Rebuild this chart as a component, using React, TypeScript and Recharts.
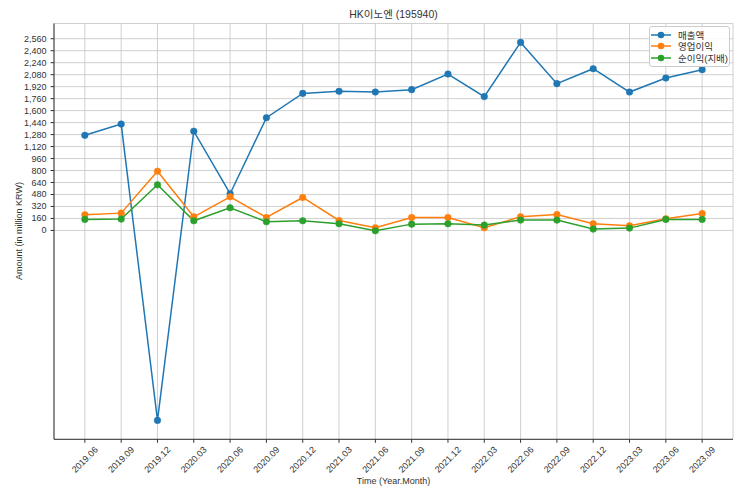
import React from "react";
import { LineChart, Line, XAxis, YAxis, CartesianGrid } from "recharts";

const periods = [
  "2019.06", "2019.09", "2019.12", "2020.03", "2020.06", "2020.09",
  "2020.12", "2021.03", "2021.06", "2021.09", "2021.12", "2022.03",
  "2022.06", "2022.09", "2022.12", "2023.03", "2023.06", "2023.09",
];
const revenue = [1270, 1420, -2537, 1325, 490, 1505, 1830, 1858, 1848, 1880, 2088, 1787, 2511, 1960, 2160, 1848, 2035, 2147];
const operatingProfit = [209, 231, 791, 182, 449, 173, 440, 133, 36, 173, 173, 36, 182, 213, 89, 62, 156, 227];
const netProfit = [147, 151, 609, 129, 302, 116, 129, 89, -5, 84, 89, 71, 138, 138, 18, 31, 147, 147];
const yTicks = [0, 160, 320, 480, 640, 800, 960, 1120, 1280, 1440, 1600, 1760, 1920, 2080, 2240, 2400, 2560];

const seriesNames = ["매출액", "영업이익", "순이익(지배)"];
const colors = ["#1f77b4", "#ff7f0e", "#2ca02c"];

const data = periods.map((p, i) => ({
  idx: i,
  label: p,
  rev: revenue[i],
  op: operatingProfit[i],
  net: netProfit[i],
}));

const allVals = [...revenue, ...operatingProfit, ...netProfit];
const vMin = Math.min(...allVals);
const vMax = Math.max(...allVals);
const vPad = (vMax - vMin) * 0.05;
const xPad = (periods.length - 1) * 0.05;

const FONT = "'Liberation Sans', 'Noto Sans CJK KR', sans-serif";
const TXT = "#333333";

const XTick = (props: any) => {
  const { x, payload } = props;
  const cy = 459.7;
  return (
    <text
      x={x}
      y={cy}
      textAnchor="middle"
      dominantBaseline="central"
      transform={`rotate(-45, ${x}, ${cy})`}
      fontSize={9}
      fontFamily={FONT}
      fill={TXT}
    >
      {periods[payload.value]}
    </text>
  );
};

const YTick = (props: any) => {
  const { x, y, payload } = props;
  return (
    <text x={x - 2} y={y} textAnchor="end" dominantBaseline="central" fontSize={9} fontFamily={FONT} fill={TXT}>
      {Number(payload.value).toLocaleString("en-US")}
    </text>
  );
};

const LegendBox = () => (
  <div
    style={{
      position: "absolute",
      left: 649,
      top: 25.5,
      width: 81,
      boxSizing: "border-box",
      border: "1px solid #cccccc",
      borderRadius: 3,
      background: "rgba(255,255,255,0.85)",
      padding: "2.5px 2px 2.5px 0px",
      fontFamily: FONT,
      fontSize: 9.5,
      color: TXT,
      whiteSpace: "nowrap",
    }}
  >
    {seriesNames.map((n, i) => (
      <div key={n} style={{ display: "flex", alignItems: "center", height: 11.5 }}>
        <svg width={21} height={10} style={{ marginRight: 7, flex: "none" }}>
          <line x1={1} y1={5} x2={21} y2={5} stroke={colors[i]} strokeWidth={1.5} />
          <circle cx={11} cy={5} r={3.3} fill={colors[i]} />
        </svg>
        <span>{n}</span>
      </div>
    ))}
  </div>
);

export default function App() {
  return (
    <div style={{ position: "absolute", left: 0, top: 0, width: 743, height: 495, background: "#fff" }}>
      <div
        style={{
          position: "absolute",
          left: 0,
          width: 787,
          top: 6,
          textAlign: "center",
          fontFamily: FONT,
          fontSize: 10.5,
          color: TXT,
        }}
      >
        HK이노엔 (195940)
      </div>
      <div
        style={{
          position: "absolute",
          left: 393.5 - 100,
          width: 200,
          top: 476,
          textAlign: "center",
          fontFamily: FONT,
          fontSize: 9,
          color: TXT,
        }}
      >
        Time (Year.Month)
      </div>
      <div
        style={{
          position: "absolute",
          left: 19 - 100,
          top: 231 - 7,
          width: 200,
          height: 14,
          lineHeight: "14px",
          textAlign: "center",
          transform: "rotate(-90deg)",
          fontFamily: FONT,
          fontSize: 9,
          color: TXT,
        }}
      >
        Amount (in million KRW)
      </div>
      <LineChart
        width={743}
        height={495}
        data={data}
        margin={{ top: 23.5, right: 10, bottom: 0, left: 0 }}
      >
        <CartesianGrid stroke="#c4c4c4" strokeWidth={0.8} horizontal={true} vertical={true} />
        <XAxis
          dataKey="idx"
          type="number"
          domain={[-xPad, periods.length - 1 + xPad]}
          ticks={periods.map((_, i) => i)}
          interval={0}
          height={55.7}
          tick={<XTick />}
          tickSize={3.5}
          axisLine={{ stroke: "#333", strokeWidth: 1 }}
          tickLine={{ stroke: "#333" }}
          allowDataOverflow
        />
        <XAxis
          xAxisId="top"
          orientation="top"
          dataKey="idx"
          type="number"
          domain={[-xPad, periods.length - 1 + xPad]}
          height={0}
          tick={false}
          tickLine={false}
          axisLine={{ stroke: "#333", strokeWidth: 1 }}
        />
        <YAxis
          type="number"
          domain={[vMin - vPad, vMax + vPad]}
          ticks={yTicks}
          interval={0}
          width={54}
          tick={<YTick />}
          tickSize={3.5}
          axisLine={{ stroke: "#333", strokeWidth: 1 }}
          tickLine={{ stroke: "#333" }}
          allowDataOverflow
        />
        <YAxis
          yAxisId="right"
          orientation="right"
          type="number"
          domain={[vMin - vPad, vMax + vPad]}
          width={0}
          tick={false}
          tickLine={false}
          axisLine={{ stroke: "#333", strokeWidth: 1 }}
        />
        <Line dataKey="rev" name={seriesNames[0]} stroke={colors[0]} strokeWidth={1.5} dot={{ r: 3.3, fill: colors[0], stroke: colors[0], strokeWidth: 0.5 }} isAnimationActive={false} />
        <Line dataKey="op" name={seriesNames[1]} stroke={colors[1]} strokeWidth={1.5} dot={{ r: 3.3, fill: colors[1], stroke: colors[1], strokeWidth: 0.5 }} isAnimationActive={false} />
        <Line dataKey="net" name={seriesNames[2]} stroke={colors[2]} strokeWidth={1.5} dot={{ r: 3.3, fill: colors[2], stroke: colors[2], strokeWidth: 0.5 }} isAnimationActive={false} />
      </LineChart>
      <LegendBox />
    </div>
  );
}
